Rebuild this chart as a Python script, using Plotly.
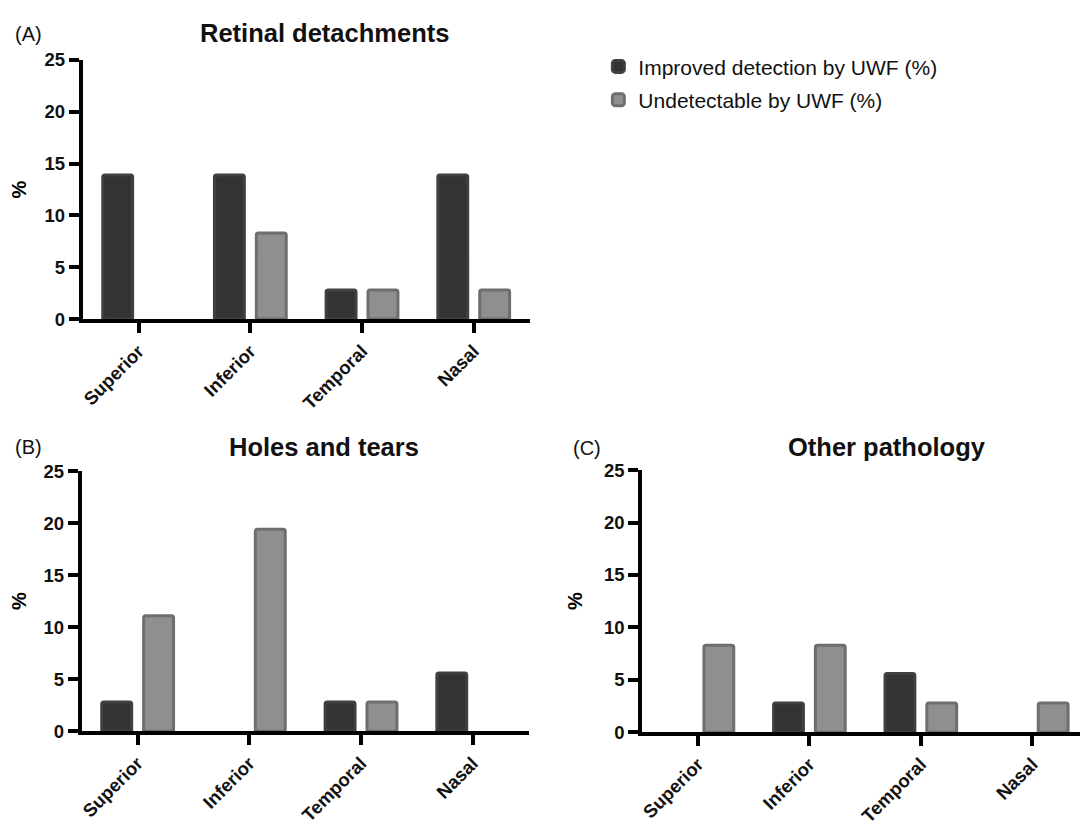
import plotly.graph_objects as go

# ---- data ----
categories = ["Superior", "Inferior", "Temporal", "Nasal"]
series_names = ["Improved detection by UWF (%)", "Undetectable by UWF (%)"]
retinal_improved = [13.9, 13.9, 2.8, 13.9]
retinal_undetect = [0, 8.3, 2.8, 2.8]
holes_improved = [2.8, 0, 2.8, 5.6]
holes_undetect = [11.1, 19.4, 2.8, 0]
other_improved = [0, 2.8, 5.6, 0]
other_undetect = [8.3, 8.3, 2.8, 2.8]
y_ticks = [0, 5, 10, 15, 20, 25]
panel_titles = ["Retinal detachments", "Holes and tears", "Other pathology"]
panel_labels = ["(A)", "(B)", "(C)"]

# the page body has an 8px default margin: shrink the figure and shift by it
OFF = 8
W, H = 1088 - OFF, 827 - OFF
FONT = "Liberation Sans, Arial, Helvetica, sans-serif"
DARK_FILL, DARK_LINE = "#333333", "#404040"
LIGHT_FILL, LIGHT_LINE = "#8f8f8f", "#6e6e6e"


def px(x):
    return (x - OFF) / W


def py(y):
    return 1 - (y - OFF) / H


panels = [
    (retinal_improved, retinal_undetect),
    (holes_improved, holes_undetect),
    (other_improved, other_undetect),
]
# pixel geometry in the reference (left, right, top(=25), bottom(=0))
geo = [(80, 528, 50, 316), (79, 527, 472, 739), (641, 1088, 471, 740)]

fig = go.Figure()
for i, (imp, und) in enumerate(panels):
    ax = "" if i == 0 else str(i + 1)
    for name, vals, fill, line in [
        (series_names[0], imp, DARK_FILL, DARK_LINE),
        (series_names[1], und, LIGHT_FILL, LIGHT_LINE),
    ]:
        fig.add_trace(go.Bar(
            x=categories, y=[v if v else None for v in vals], name=name,
            marker=dict(color=fill, line=dict(color=line, width=3), cornerradius=2),
            xaxis="x" + ax, yaxis="y" + ax,
            legendgroup=name, showlegend=(i == 0),
        ))

layout = dict(
    width=W, height=H,
    margin=dict(l=0, r=0, t=0, b=0),
    paper_bgcolor="white", plot_bgcolor="white",
    barmode="group", bargap=0.25, bargroupgap=0.286,
    font=dict(family=FONT, color="black"),
    legend=dict(
        x=px(597), y=py(36), xanchor="left", yanchor="top",
        font=dict(size=21, family=FONT, color="#111"),
        tracegroupgap=3, traceorder="grouped",
        bgcolor="rgba(0,0,0,0)",
    ),
    annotations=[],
)

title_x = [322, 322, 886]
title_y = [22, 447, 447]
label_x = [10, 10, 570]
label_y = [23, 447, 448]

for i, (l, r, t, b) in enumerate(geo):
    ax = "" if i == 0 else str(i + 1)
    layout["xaxis" + ax] = dict(
        domain=[px(l), min(px(r), 1.0)], anchor="y" + ax,
        type="category", range=[-0.5, 3.5],
        showline=True, linewidth=4, linecolor="black",
        ticks="outside", ticklen=10, tickwidth=4, tickcolor="black",
        tickangle=-45, tickfont=dict(size=18.5, family=FONT, weight="bold", color="#111"),
        showgrid=False, zeroline=False, fixedrange=True,
    )
    layout["yaxis" + ax] = dict(
        domain=[py(b), py(t)], anchor="x" + ax,
        range=[0, 25], tickvals=y_ticks,
        showline=True, linewidth=4, linecolor="black",
        ticks="outside", ticklen=10, tickwidth=4, tickcolor="black",
        tickfont=dict(size=18.5, family=FONT, weight="bold", color="#111"),
        title=dict(text="%", font=dict(size=20, family=FONT, weight="bold"), standoff=17),
        showgrid=False, zeroline=False, fixedrange=True,
    )
    layout["annotations"].append(dict(
        text=panel_titles[i], x=px(title_x[i]), y=py(title_y[i]),
        xref="paper", yref="paper", xanchor="center", yanchor="middle",
        showarrow=False, font=dict(size=25.5, family=FONT, weight="bold", color="#111"),
    ))
    layout["annotations"].append(dict(
        text=panel_labels[i], x=px(label_x[i]), y=py(label_y[i]),
        xref="paper", yref="paper", xanchor="left", yanchor="middle",
        showarrow=False, font=dict(size=20, family=FONT, color="#111"),
    ))

fig.update_layout(**layout)
fig.write_html("out.html")
